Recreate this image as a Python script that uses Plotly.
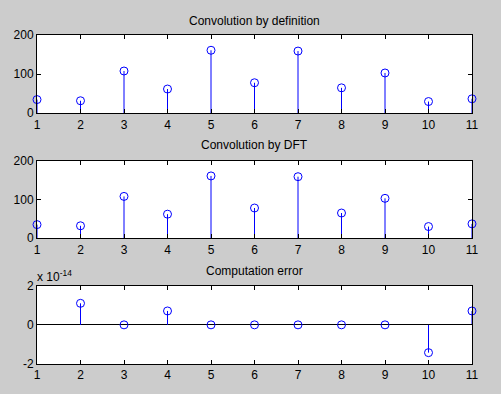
import plotly.graph_objects as go

n = list(range(1, 12))
conv_def = [35, 32, 108, 62, 161, 78, 159, 65, 103, 30, 37]
conv_dft = [35, 32, 108, 62, 161, 78, 159, 65, 103, 30, 37]
err_n = list(range(2, 12))
err_scale = 1e-14
err_vals = [1.1e-14, 0, 0.71e-14, 0, 0, 0, 0, 0, -1.42e-14, 0.71e-14]
titles = ["Convolution by definition", "Convolution by DFT", "Computation error"]
x_ticks = list(range(1, 12))
y_ticks = [[0, 100, 200], [0, 100, 200], [-2, 0, 2]]
y_ticklabels = [["0", "100", "200"], ["0", "100", "200"], ["-2", "0", "2"]]

BLUE = "#0000FF"
W, H = 501, 394
ML, MR, MT, MB = 37, 29, 35, 27
PH = H - MT - MB

def dom(top_px, bot_px):
    return [1 - (bot_px - MT) / PH, 1 - (top_px - MT) / PH]

domains = [dom(35, 114), dom(162, 240), dom(288, 367)]

fig = go.Figure()

def add_stem(xs, ys, idx):
    sx, sy = [], []
    for x, y in zip(xs, ys):
        sx += [x, x, None]
        sy += [0, y, None]
    xa = "x" if idx == 1 else f"x{idx}"
    ya = "y" if idx == 1 else f"y{idx}"
    fig.add_trace(go.Scatter(x=sx, y=sy, mode="lines", line=dict(color=BLUE, width=1),
                             xaxis=xa, yaxis=ya, showlegend=False, hoverinfo="skip",
                             cliponaxis=False))
    fig.add_trace(go.Scatter(x=xs, y=ys, mode="markers",
                             marker=dict(symbol="circle-open", size=8, color=BLUE,
                                         line=dict(width=1, color=BLUE)),
                             xaxis=xa, yaxis=ya, showlegend=False, cliponaxis=False))

add_stem(n, conv_def, 1)
add_stem(n, conv_dft, 2)
add_stem(err_n, [v / err_scale for v in err_vals], 3)

font = dict(family="Liberation Sans, Arial, sans-serif", size=12, color="black")
axis_common = dict(showline=True, linecolor="black", linewidth=1, mirror="ticks",
                   ticks="inside", ticklen=4, tickcolor="black", showgrid=False,
                   tickfont=font, fixedrange=True)

layout = dict(width=W, height=H, paper_bgcolor="#CCCCCC", plot_bgcolor="white",
              margin=dict(l=ML, r=MR, t=MT, b=MB), font=font, showlegend=False)

yranges = [[0, 200], [0, 200], [-2, 2]]
for i in range(3):
    k = "" if i == 0 else str(i + 1)
    layout["xaxis" + k] = dict(axis_common, domain=[0, 1], range=[1, 11],
                               tickvals=x_ticks, anchor="y" + k, zeroline=False)
    layout["yaxis" + k] = dict(axis_common, domain=domains[i], range=yranges[i],
                               tickvals=y_ticks[i], ticktext=y_ticklabels[i], anchor="x" + k,
                               zeroline=(i == 2), zerolinecolor="black", zerolinewidth=1)

fig.update_layout(**layout)

title_y_px = [21, 146, 273]
for t, ypx in zip(titles, title_y_px):
    fig.add_annotation(text=t, xref="paper", yref="paper", x=0.5, y=1 - (ypx - MT) / PH,
                       xanchor="center", yanchor="middle", showarrow=False, font=font)

fig.add_annotation(text="x 10<sup>-14</sup>", xref="paper", yref="paper",
                   x=(35 - ML) / (W - ML - MR), y=1 - (278 - MT) / PH,
                   xanchor="left", yanchor="middle", showarrow=False, font=font)

fig.write_html("out.html", config={"displayModeBar": False},
               post_script="document.body.style.margin='0';document.body.style.padding='0';"
                           "document.body.style.background='#CCCCCC';")
